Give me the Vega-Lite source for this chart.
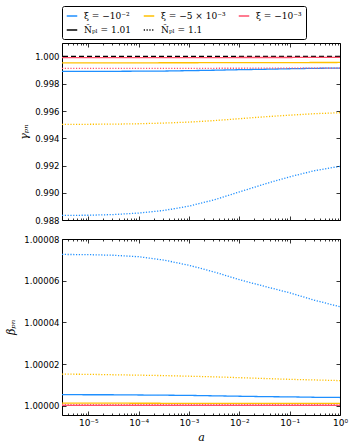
{
  "$schema": "https://vega.github.io/schema/vega-lite/v6.json",
  "padding": {"left": 5, "right": 5, "top": 5, "bottom": 1},
  "config": {
    "font": "DejaVu Sans",
    "view": {"stroke": "black", "strokeWidth": 1},
    "axis": {"domain": false, "grid": false, "tickColor": "black", "tickWidth": 0.8, "labelColor": "black", "labelFont": "DejaVu Sans", "labelFontSize": 8.5, "titleFont": "DejaVu Serif", "titleFontWeight": "normal", "titleFontStyle": "italic", "titleColor": "black", "titleFontSize": 11},
    "legend": {"orient": "top", "direction": "horizontal", "columns": 3, "symbolType": "stroke", "symbolSize": 110, "symbolStrokeWidth": 1.3, "labelFont": "DejaVu Serif", "labelFontSize": 9, "labelColor": "black", "strokeColor": "black", "padding": 4, "cornerRadius": 2, "rowPadding": 3, "columnPadding": 10, "offset": 3, "labelLimit": 0, "labelOffset": 6}
  },
  "datasets": {
    "curves": [
      {"panel": "gamma", "xi": "ξ = −10⁻²", "N": "Ñₚₗ = 1.1", "a": 3e-6, "v": 0.98834},
      {"panel": "gamma", "xi": "ξ = −10⁻²", "N": "Ñₚₗ = 1.1", "a": 1e-5, "v": 0.98835},
      {"panel": "gamma", "xi": "ξ = −10⁻²", "N": "Ñₚₗ = 1.1", "a": 3.162e-5, "v": 0.9884},
      {"panel": "gamma", "xi": "ξ = −10⁻²", "N": "Ñₚₗ = 1.1", "a": 1e-4, "v": 0.98851},
      {"panel": "gamma", "xi": "ξ = −10⁻²", "N": "Ñₚₗ = 1.1", "a": 3.162e-4, "v": 0.9887},
      {"panel": "gamma", "xi": "ξ = −10⁻²", "N": "Ñₚₗ = 1.1", "a": 0.001, "v": 0.98902},
      {"panel": "gamma", "xi": "ξ = −10⁻²", "N": "Ñₚₗ = 1.1", "a": 0.003162, "v": 0.98948},
      {"panel": "gamma", "xi": "ξ = −10⁻²", "N": "Ñₚₗ = 1.1", "a": 0.01, "v": 0.99006},
      {"panel": "gamma", "xi": "ξ = −10⁻²", "N": "Ñₚₗ = 1.1", "a": 0.03162, "v": 0.99064},
      {"panel": "gamma", "xi": "ξ = −10⁻²", "N": "Ñₚₗ = 1.1", "a": 0.1, "v": 0.99117},
      {"panel": "gamma", "xi": "ξ = −10⁻²", "N": "Ñₚₗ = 1.1", "a": 0.3162, "v": 0.99163},
      {"panel": "gamma", "xi": "ξ = −10⁻²", "N": "Ñₚₗ = 1.1", "a": 1, "v": 0.99194},
      {"panel": "gamma", "xi": "ξ = −10⁻²", "N": "Ñₚₗ = 1.01", "a": 3e-6, "v": 0.99892},
      {"panel": "gamma", "xi": "ξ = −10⁻²", "N": "Ñₚₗ = 1.01", "a": 1e-5, "v": 0.99892},
      {"panel": "gamma", "xi": "ξ = −10⁻²", "N": "Ñₚₗ = 1.01", "a": 3.162e-5, "v": 0.99892},
      {"panel": "gamma", "xi": "ξ = −10⁻²", "N": "Ñₚₗ = 1.01", "a": 1e-4, "v": 0.99893},
      {"panel": "gamma", "xi": "ξ = −10⁻²", "N": "Ñₚₗ = 1.01", "a": 3.162e-4, "v": 0.99894},
      {"panel": "gamma", "xi": "ξ = −10⁻²", "N": "Ñₚₗ = 1.01", "a": 0.001, "v": 0.99897},
      {"panel": "gamma", "xi": "ξ = −10⁻²", "N": "Ñₚₗ = 1.01", "a": 0.003162, "v": 0.999},
      {"panel": "gamma", "xi": "ξ = −10⁻²", "N": "Ñₚₗ = 1.01", "a": 0.01, "v": 0.99904},
      {"panel": "gamma", "xi": "ξ = −10⁻²", "N": "Ñₚₗ = 1.01", "a": 0.03162, "v": 0.99907},
      {"panel": "gamma", "xi": "ξ = −10⁻²", "N": "Ñₚₗ = 1.01", "a": 0.1, "v": 0.99911},
      {"panel": "gamma", "xi": "ξ = −10⁻²", "N": "Ñₚₗ = 1.01", "a": 0.3162, "v": 0.99914},
      {"panel": "gamma", "xi": "ξ = −10⁻²", "N": "Ñₚₗ = 1.01", "a": 1, "v": 0.99916},
      {"panel": "gamma", "xi": "ξ = −5 × 10⁻³", "N": "Ñₚₗ = 1.1", "a": 3e-6, "v": 0.99503},
      {"panel": "gamma", "xi": "ξ = −5 × 10⁻³", "N": "Ñₚₗ = 1.1", "a": 1e-5, "v": 0.99503},
      {"panel": "gamma", "xi": "ξ = −5 × 10⁻³", "N": "Ñₚₗ = 1.1", "a": 3.162e-5, "v": 0.99504},
      {"panel": "gamma", "xi": "ξ = −5 × 10⁻³", "N": "Ñₚₗ = 1.1", "a": 1e-4, "v": 0.99507},
      {"panel": "gamma", "xi": "ξ = −5 × 10⁻³", "N": "Ñₚₗ = 1.1", "a": 3.162e-4, "v": 0.99512},
      {"panel": "gamma", "xi": "ξ = −5 × 10⁻³", "N": "Ñₚₗ = 1.1", "a": 0.001, "v": 0.99519},
      {"panel": "gamma", "xi": "ξ = −5 × 10⁻³", "N": "Ñₚₗ = 1.1", "a": 0.003162, "v": 0.9953},
      {"panel": "gamma", "xi": "ξ = −5 × 10⁻³", "N": "Ñₚₗ = 1.1", "a": 0.01, "v": 0.99544},
      {"panel": "gamma", "xi": "ξ = −5 × 10⁻³", "N": "Ñₚₗ = 1.1", "a": 0.03162, "v": 0.99558},
      {"panel": "gamma", "xi": "ξ = −5 × 10⁻³", "N": "Ñₚₗ = 1.1", "a": 0.1, "v": 0.9957},
      {"panel": "gamma", "xi": "ξ = −5 × 10⁻³", "N": "Ñₚₗ = 1.1", "a": 0.3162, "v": 0.99581},
      {"panel": "gamma", "xi": "ξ = −5 × 10⁻³", "N": "Ñₚₗ = 1.1", "a": 1, "v": 0.99588},
      {"panel": "gamma", "xi": "ξ = −5 × 10⁻³", "N": "Ñₚₗ = 1.01", "a": 3e-6, "v": 0.99954},
      {"panel": "gamma", "xi": "ξ = −5 × 10⁻³", "N": "Ñₚₗ = 1.01", "a": 0.001, "v": 0.99955},
      {"panel": "gamma", "xi": "ξ = −5 × 10⁻³", "N": "Ñₚₗ = 1.01", "a": 1, "v": 0.99957},
      {"panel": "gamma", "xi": "ξ = −10⁻³", "N": "Ñₚₗ = 1.1", "a": 3e-6, "v": 0.99913},
      {"panel": "gamma", "xi": "ξ = −10⁻³", "N": "Ñₚₗ = 1.1", "a": 0.001, "v": 0.99914},
      {"panel": "gamma", "xi": "ξ = −10⁻³", "N": "Ñₚₗ = 1.1", "a": 1, "v": 0.99916},
      {"panel": "gamma", "xi": "ξ = −10⁻³", "N": "Ñₚₗ = 1.01", "a": 3e-6, "v": 0.99993},
      {"panel": "gamma", "xi": "ξ = −10⁻³", "N": "Ñₚₗ = 1.01", "a": 0.001, "v": 0.99993},
      {"panel": "gamma", "xi": "ξ = −10⁻³", "N": "Ñₚₗ = 1.01", "a": 1, "v": 0.99994},
      {"panel": "beta", "xi": "ξ = −10⁻²", "N": "Ñₚₗ = 1.1", "a": 3e-6, "v": 1.0000726},
      {"panel": "beta", "xi": "ξ = −10⁻²", "N": "Ñₚₗ = 1.1", "a": 1e-5, "v": 1.0000725},
      {"panel": "beta", "xi": "ξ = −10⁻²", "N": "Ñₚₗ = 1.1", "a": 3.162e-5, "v": 1.0000722},
      {"panel": "beta", "xi": "ξ = −10⁻²", "N": "Ñₚₗ = 1.1", "a": 1e-4, "v": 1.0000715},
      {"panel": "beta", "xi": "ξ = −10⁻²", "N": "Ñₚₗ = 1.1", "a": 3.162e-4, "v": 1.0000699},
      {"panel": "beta", "xi": "ξ = −10⁻²", "N": "Ñₚₗ = 1.1", "a": 0.001, "v": 1.0000674},
      {"panel": "beta", "xi": "ξ = −10⁻²", "N": "Ñₚₗ = 1.1", "a": 0.003162, "v": 1.0000642},
      {"panel": "beta", "xi": "ξ = −10⁻²", "N": "Ñₚₗ = 1.1", "a": 0.01, "v": 1.0000605},
      {"panel": "beta", "xi": "ξ = −10⁻²", "N": "Ñₚₗ = 1.1", "a": 0.03162, "v": 1.0000573},
      {"panel": "beta", "xi": "ξ = −10⁻²", "N": "Ñₚₗ = 1.1", "a": 0.1, "v": 1.0000542},
      {"panel": "beta", "xi": "ξ = −10⁻²", "N": "Ñₚₗ = 1.1", "a": 0.3162, "v": 1.0000506},
      {"panel": "beta", "xi": "ξ = −10⁻²", "N": "Ñₚₗ = 1.1", "a": 1, "v": 1.0000475},
      {"panel": "beta", "xi": "ξ = −5 × 10⁻³", "N": "Ñₚₗ = 1.1", "a": 3e-6, "v": 1.0000152},
      {"panel": "beta", "xi": "ξ = −5 × 10⁻³", "N": "Ñₚₗ = 1.1", "a": 1e-5, "v": 1.0000151},
      {"panel": "beta", "xi": "ξ = −5 × 10⁻³", "N": "Ñₚₗ = 1.1", "a": 3.162e-5, "v": 1.0000149},
      {"panel": "beta", "xi": "ξ = −5 × 10⁻³", "N": "Ñₚₗ = 1.1", "a": 1e-4, "v": 1.0000147},
      {"panel": "beta", "xi": "ξ = −5 × 10⁻³", "N": "Ñₚₗ = 1.1", "a": 3.162e-4, "v": 1.0000145},
      {"panel": "beta", "xi": "ξ = −5 × 10⁻³", "N": "Ñₚₗ = 1.1", "a": 0.001, "v": 1.0000142},
      {"panel": "beta", "xi": "ξ = −5 × 10⁻³", "N": "Ñₚₗ = 1.1", "a": 0.003162, "v": 1.0000139},
      {"panel": "beta", "xi": "ξ = −5 × 10⁻³", "N": "Ñₚₗ = 1.1", "a": 0.01, "v": 1.0000135},
      {"panel": "beta", "xi": "ξ = −5 × 10⁻³", "N": "Ñₚₗ = 1.1", "a": 0.03162, "v": 1.0000131},
      {"panel": "beta", "xi": "ξ = −5 × 10⁻³", "N": "Ñₚₗ = 1.1", "a": 0.1, "v": 1.0000127},
      {"panel": "beta", "xi": "ξ = −5 × 10⁻³", "N": "Ñₚₗ = 1.1", "a": 0.3162, "v": 1.0000124},
      {"panel": "beta", "xi": "ξ = −5 × 10⁻³", "N": "Ñₚₗ = 1.1", "a": 1, "v": 1.0000121},
      {"panel": "beta", "xi": "ξ = −10⁻²", "N": "Ñₚₗ = 1.01", "a": 3e-6, "v": 1.0000054},
      {"panel": "beta", "xi": "ξ = −10⁻²", "N": "Ñₚₗ = 1.01", "a": 1e-5, "v": 1.0000053},
      {"panel": "beta", "xi": "ξ = −10⁻²", "N": "Ñₚₗ = 1.01", "a": 3.162e-5, "v": 1.0000053},
      {"panel": "beta", "xi": "ξ = −10⁻²", "N": "Ñₚₗ = 1.01", "a": 1e-4, "v": 1.0000052},
      {"panel": "beta", "xi": "ξ = −10⁻²", "N": "Ñₚₗ = 1.01", "a": 3.162e-4, "v": 1.0000051},
      {"panel": "beta", "xi": "ξ = −10⁻²", "N": "Ñₚₗ = 1.01", "a": 0.001, "v": 1.000005},
      {"panel": "beta", "xi": "ξ = −10⁻²", "N": "Ñₚₗ = 1.01", "a": 0.003162, "v": 1.0000048},
      {"panel": "beta", "xi": "ξ = −10⁻²", "N": "Ñₚₗ = 1.01", "a": 0.01, "v": 1.0000046},
      {"panel": "beta", "xi": "ξ = −10⁻²", "N": "Ñₚₗ = 1.01", "a": 0.03162, "v": 1.0000044},
      {"panel": "beta", "xi": "ξ = −10⁻²", "N": "Ñₚₗ = 1.01", "a": 0.1, "v": 1.0000043},
      {"panel": "beta", "xi": "ξ = −10⁻²", "N": "Ñₚₗ = 1.01", "a": 0.3162, "v": 1.0000041},
      {"panel": "beta", "xi": "ξ = −10⁻²", "N": "Ñₚₗ = 1.01", "a": 1, "v": 1.000004},
      {"panel": "beta", "xi": "ξ = −5 × 10⁻³", "N": "Ñₚₗ = 1.01", "a": 3e-6, "v": 1.0000013},
      {"panel": "beta", "xi": "ξ = −5 × 10⁻³", "N": "Ñₚₗ = 1.01", "a": 0.001, "v": 1.0000012},
      {"panel": "beta", "xi": "ξ = −5 × 10⁻³", "N": "Ñₚₗ = 1.01", "a": 1, "v": 1.0000012},
      {"panel": "beta", "xi": "ξ = −10⁻³", "N": "Ñₚₗ = 1.1", "a": 3e-6, "v": 1.0000006},
      {"panel": "beta", "xi": "ξ = −10⁻³", "N": "Ñₚₗ = 1.1", "a": 0.001, "v": 1.0000006},
      {"panel": "beta", "xi": "ξ = −10⁻³", "N": "Ñₚₗ = 1.1", "a": 1, "v": 1.0000005},
      {"panel": "beta", "xi": "ξ = −10⁻³", "N": "Ñₚₗ = 1.01", "a": 3e-6, "v": 1.0000002},
      {"panel": "beta", "xi": "ξ = −10⁻³", "N": "Ñₚₗ = 1.01", "a": 0.001, "v": 1.0000002},
      {"panel": "beta", "xi": "ξ = −10⁻³", "N": "Ñₚₗ = 1.01", "a": 1, "v": 1.0000002}
    ]
  },
  "spacing": 9,
  "vconcat": [
    {
      "width": 278,
      "height": 177,
      "resolve": {"axis": {"x": "independent", "y": "independent"}},
      "layer": [
        {
          "data": {"values": [{"ref": 1}]},
          "mark": {"type": "rule", "color": "black", "strokeDash": [5, 3], "strokeWidth": 1.5},
          "encoding": {
            "y": {"field": "ref", "type": "quantitative", "scale": {"domain": [0.988, 1.001], "zero": false, "nice": false}, "axis": null}
          }
        },
        {
          "data": {"name": "curves"},
          "transform": [{"filter": "datum.panel === 'gamma' && datum.N === 'Ñₚₗ = 1.01'"}],
          "mark": {"type": "line", "strokeWidth": 1.3, "clip": true},
          "encoding": {
            "x": {"field": "a", "type": "quantitative", "scale": {"type": "log", "domain": [3e-6, 1], "nice": false},
              "axis": {"orient": "bottom", "title": null, "labels": false,
                "values": [3e-6, 4e-6, 5e-6, 6e-6, 7e-6, 8e-6, 9e-6, 1e-5, 2e-5, 3e-5, 4e-5, 5e-5, 6e-5, 7e-5, 8e-5, 9e-5, 1e-4, 2e-4, 3e-4, 4e-4, 5e-4, 6e-4, 7e-4, 8e-4, 9e-4, 0.001, 0.002, 0.003, 0.004, 0.005, 0.006, 0.007, 0.008, 0.009, 0.01, 0.02, 0.03, 0.04, 0.05, 0.06, 0.07, 0.08, 0.09, 0.1, 0.2, 0.3, 0.4, 0.5, 0.6, 0.7, 0.8, 0.9, 1],
                "tickSize": {"condition": {"test": "abs(log(datum.value)/LN10 - round(log(datum.value)/LN10)) < 0.001", "value": -4}, "value": -2}}},
            "y": {"field": "v", "type": "quantitative", "scale": {"domain": [0.988, 1.001], "zero": false, "nice": false},
              "axis": {"orient": "left", "title": "γₚₙ", "values": [0.988, 0.99, 0.992, 0.994, 0.996, 0.998, 1.0], "format": ".3f", "tickSize": -4, "labelPadding": 7, "titlePadding": 5}},
            "color": {"field": "xi", "type": "nominal", "scale": {"domain": ["ξ = −10⁻²", "ξ = −5 × 10⁻³", "ξ = −10⁻³", "Ñₚₗ = 1.01", "Ñₚₗ = 1.1"], "range": ["#1E8FFF", "#FFC000", "#FF4F6B", "black", "black"]}, "legend": {"title": null}},
            "strokeDash": {"field": "xi", "type": "nominal", "scale": {"domain": ["ξ = −10⁻²", "ξ = −5 × 10⁻³", "ξ = −10⁻³", "Ñₚₗ = 1.01", "Ñₚₗ = 1.1"], "range": [[1, 0], [1, 0], [1, 0], [1, 0], [1.2, 1.6]]}, "legend": {"title": null}}
          }
        },
        {
          "data": {"name": "curves"},
          "transform": [{"filter": "datum.panel === 'gamma' && datum.N === 'Ñₚₗ = 1.1'"}],
          "mark": {"type": "line", "strokeWidth": 1.3, "clip": true},
          "encoding": {
            "x": {"field": "a", "type": "quantitative",
              "axis": {"orient": "top", "title": null, "labels": false,
                "values": [3e-6, 4e-6, 5e-6, 6e-6, 7e-6, 8e-6, 9e-6, 1e-5, 2e-5, 3e-5, 4e-5, 5e-5, 6e-5, 7e-5, 8e-5, 9e-5, 1e-4, 2e-4, 3e-4, 4e-4, 5e-4, 6e-4, 7e-4, 8e-4, 9e-4, 0.001, 0.002, 0.003, 0.004, 0.005, 0.006, 0.007, 0.008, 0.009, 0.01, 0.02, 0.03, 0.04, 0.05, 0.06, 0.07, 0.08, 0.09, 0.1, 0.2, 0.3, 0.4, 0.5, 0.6, 0.7, 0.8, 0.9, 1],
                "tickSize": {"condition": {"test": "abs(log(datum.value)/LN10 - round(log(datum.value)/LN10)) < 0.001", "value": -4}, "value": -2}}},
            "y": {"field": "v", "type": "quantitative",
              "axis": {"orient": "right", "title": null, "labels": false, "values": [0.988, 0.99, 0.992, 0.994, 0.996, 0.998, 1.0], "tickSize": -4}},
            "color": {"field": "xi", "type": "nominal", "legend": null},
            "strokeDash": {"field": "N", "type": "nominal", "legend": null}
          }
        }
      ]
    },
    {
      "width": 278,
      "height": 176,
      "resolve": {"axis": {"x": "independent", "y": "independent"}},
      "layer": [
        {
          "data": {"name": "curves"},
          "transform": [{"filter": "datum.panel === 'beta' && datum.N === 'Ñₚₗ = 1.01'"}],
          "mark": {"type": "line", "strokeWidth": 1.3, "clip": true},
          "encoding": {
            "x": {"field": "a", "type": "quantitative", "scale": {"type": "log", "domain": [3e-6, 1], "nice": false},
              "axis": {"orient": "bottom", "title": "a", "labelPadding": 7, "titlePadding": 2, "labelFlush": false, "labelOverlap": false, "labelFontSize": 9,
                "labelExpr": "abs(log(datum.value)/LN10 - round(log(datum.value)/LN10)) < 0.001 ? '10' + replace(replace(replace(replace(replace(replace(replace('' + round(log(datum.value)/LN10), '-', '⁻'), '0', '⁰'), '1', '¹'), '2', '²'), '3', '³'), '4', '⁴'), '5', '⁵') : ''",
                "values": [3e-6, 4e-6, 5e-6, 6e-6, 7e-6, 8e-6, 9e-6, 1e-5, 2e-5, 3e-5, 4e-5, 5e-5, 6e-5, 7e-5, 8e-5, 9e-5, 1e-4, 2e-4, 3e-4, 4e-4, 5e-4, 6e-4, 7e-4, 8e-4, 9e-4, 0.001, 0.002, 0.003, 0.004, 0.005, 0.006, 0.007, 0.008, 0.009, 0.01, 0.02, 0.03, 0.04, 0.05, 0.06, 0.07, 0.08, 0.09, 0.1, 0.2, 0.3, 0.4, 0.5, 0.6, 0.7, 0.8, 0.9, 1],
                "tickSize": {"condition": {"test": "abs(log(datum.value)/LN10 - round(log(datum.value)/LN10)) < 0.001", "value": -4}, "value": -2}}},
            "y": {"field": "v", "type": "quantitative", "scale": {"domain": [0.9999956, 1.00008], "zero": false, "nice": false},
              "axis": {"orient": "left", "title": "βₚₙ", "values": [1.0, 1.00002, 1.00004, 1.00006, 1.00008], "format": ".5f", "tickSize": -4, "labelPadding": 7, "titlePadding": 7}},
            "color": {"field": "xi", "type": "nominal", "legend": null},
            "strokeDash": {"field": "xi", "type": "nominal", "legend": null}
          }
        },
        {
          "data": {"name": "curves"},
          "transform": [{"filter": "datum.panel === 'beta' && datum.N === 'Ñₚₗ = 1.1'"}],
          "mark": {"type": "line", "strokeWidth": 1.3, "clip": true},
          "encoding": {
            "x": {"field": "a", "type": "quantitative",
              "axis": {"orient": "top", "title": null, "labels": false,
                "values": [3e-6, 4e-6, 5e-6, 6e-6, 7e-6, 8e-6, 9e-6, 1e-5, 2e-5, 3e-5, 4e-5, 5e-5, 6e-5, 7e-5, 8e-5, 9e-5, 1e-4, 2e-4, 3e-4, 4e-4, 5e-4, 6e-4, 7e-4, 8e-4, 9e-4, 0.001, 0.002, 0.003, 0.004, 0.005, 0.006, 0.007, 0.008, 0.009, 0.01, 0.02, 0.03, 0.04, 0.05, 0.06, 0.07, 0.08, 0.09, 0.1, 0.2, 0.3, 0.4, 0.5, 0.6, 0.7, 0.8, 0.9, 1],
                "tickSize": {"condition": {"test": "abs(log(datum.value)/LN10 - round(log(datum.value)/LN10)) < 0.001", "value": -4}, "value": -2}}},
            "y": {"field": "v", "type": "quantitative",
              "axis": {"orient": "right", "title": null, "labels": false, "values": [1.0, 1.00002, 1.00004, 1.00006, 1.00008], "tickSize": -4}},
            "color": {"field": "xi", "type": "nominal", "legend": null},
            "strokeDash": {"field": "N", "type": "nominal", "legend": null}
          }
        }
      ]
    }
  ]
}
